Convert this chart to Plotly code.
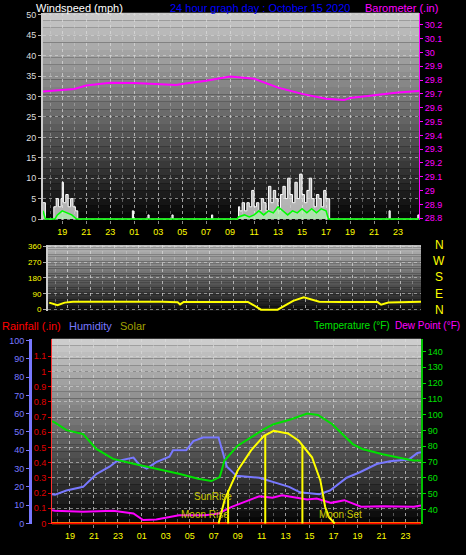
import plotly.graph_objects as go

W, H = 466, 555
# ---------------- data ----------------
baro_h = [17.4, 19, 20, 21, 23, 25, 27, 28.5, 29, 31, 33, 35, 37, 39, 41, 42.5, 43, 45, 47, 48.75]
baro_v = [29.717, 29.73, 29.735, 29.76, 29.78, 29.778, 29.77, 29.765, 29.772, 29.795, 29.825, 29.81, 29.745,
          29.70, 29.665, 29.655, 29.67, 29.69, 29.71, 29.72]

gust_h = [17.4, 17.6, 18.2, 18.3, 18.5, 18.7, 18.9, 19.0, 19.1, 19.3, 19.5, 19.7, 19.9, 20.1, 20.3,
          24.85, 24.95, 26.15, 26.25, 28.15, 28.25, 31.45, 31.55,
          33.6, 33.7, 33.8, 34.0, 34.2, 34.4, 34.6, 34.8, 35.0, 35.2, 35.4, 35.6, 35.8, 36.0, 36.2, 36.4,
          36.6, 36.8, 37.0, 37.2, 37.4, 37.6, 37.8, 38.0, 38.2, 38.4, 38.6, 38.8, 39.0, 39.2, 39.4, 39.6,
          39.8, 40.0, 40.2, 40.4, 40.6, 40.8, 41.0, 41.2, 41.3,
          46.25, 46.35, 48.65, 48.75]
gust_v = [4, 0, 0, 3, 5, 3, 5, 9, 4, 6, 3, 5, 3, 2, 0,
          2, 0, 1, 0, 1, 0, 1, 0,
          0, 3, 2, 4, 2, 4, 3, 7, 3, 4, 2, 5, 4, 2, 8, 4,
          7, 5, 2, 6, 8, 5, 10, 6, 4, 9, 5, 11, 6, 4, 7, 10,
          5, 3, 6, 5, 3, 7, 5, 5, 0,
          2, 0, 1, 0]
avg_h = [17.4, 17.6, 18.4, 18.6, 19.0, 19.4, 19.8, 20.2, 33.6, 33.7, 34.2, 34.6, 35.0, 35.4, 35.8, 36.2,
         36.6, 37.0, 37.4, 37.8, 38.2, 38.6, 39.0, 39.4, 39.8, 40.2, 40.6, 41.0, 41.2, 48.75]
avg_v = [2, 0, 0, 1, 2, 1.5, 1, 0, 0, 0.5, 1, 0.5, 1, 2, 1, 2,
         1.5, 3, 2, 1, 2, 1.5, 2.5, 1.5, 2.5, 1.5, 2.5, 2, 0, 0]

dir_h = [17.5, 18.0, 18.2, 18.8, 19.5, 21, 23, 25, 27, 28.3, 28.5, 28.8, 31, 33, 34.2, 34.7, 35.3, 36.7,
         37.3, 38.0, 38.9, 39.5, 40.2, 42, 44, 45.1, 45.4, 46, 48.75]
dir_v = [40, 30, 25, 40, 45, 45, 46, 44, 45, 42, 30, 44, 45, 45, 44, 25, 0, 0,
         22, 50, 70, 60, 45, 44, 45, 43, 28, 40, 45]

hum_h = [17.5, 17.75, 18.7, 20.1, 21.2, 22.3, 22.9, 24.3, 24.8, 25.4, 26.2, 27.3, 27.6, 28.7, 29.3, 30.1,
         31.0, 31.4, 32.1, 32.9, 34.8, 36.0, 37.3, 38.2, 39.8, 40.7, 42.1, 43.2, 44.6, 45.7, 47.3, 48.0, 48.3]
hum_v = [16, 15.7, 18, 20, 27, 31, 34, 36, 32, 30, 33.5, 36.5, 40, 40, 45, 47,
         47, 47, 31, 26, 25, 22.6, 20, 17, 16, 18, 25, 28, 32.5, 34, 35, 38.5, 39]
temp_h = [17.5, 17.75, 18.7, 20.1, 21.2, 22.6, 24.3, 25.6, 28.1, 29.7, 30.8, 31.5, 31.9, 33.0, 34.1, 35.2,
          36.0, 37.4, 38.8, 39.7, 40.9, 42.6, 43.4, 45.1, 47.0, 47.7, 48.3]
temp_v = [96, 95, 90.2, 87.7, 78.3, 72, 68.9, 66.8, 62.6, 59.5, 58, 60.5, 71, 80.4, 85.6, 90.8,
          94, 97, 100.7, 99.8, 94, 81.4, 78.3, 75, 72, 71, 71]
dew_h = [17.5, 17.75, 20.1, 22.6, 24.3, 25.1, 26.2, 28.1, 30.3, 31.4, 32.5, 34.8, 35.9, 36.7, 38.8, 39.6,
         40.8, 41.9, 43.3, 45.1, 47.7, 48.3]
dew_v = [39.5, 39.2, 38.5, 39.2, 37.5, 33.3, 33.7, 36.4, 36.4, 37.5, 41.7, 48.4, 47.5, 49, 46.3, 47,
         44.2, 45.9, 41.7, 42.1, 41.7, 42.5]
solar_h = [31.4, 31.9, 32.5, 33.0, 34.1, 35.2, 36.0, 37.2, 38.1, 39.2, 39.9, 40.3, 40.6, 41.1]
solar_v = [0, 140, 239, 318, 438, 527, 557, 541, 497, 398, 259, 99, 40, 0]
mark_h = [32.2, 35.3, 38.4]
mark_v = [200, 530, 470]
rain_h = [17.5, 48.3]
rain_v = [0, 0]

tick_hours = [19, 21, 23, 25, 27, 29, 31, 33, 35, 37, 39, 41, 43, 45, 47]
tick_text = ["19", "21", "23", "01", "03", "05", "07", "09", "11", "13", "15", "17", "19", "21", "23"]
compass = ["N", "W", "S", "E", "N"]

# ---------------- figure ----------------
def px_x(p): return p / W
def px_y(p): return 1 - p / H

fig = go.Figure()
fig.add_trace(go.Scatter(x=gust_h, y=gust_v, mode="lines", line=dict(color="white", width=1, shape="hv"),
                         fill="tozeroy", fillcolor="rgba(235,235,235,0.75)", xaxis="x", yaxis="y"))
fig.add_trace(go.Scatter(x=avg_h, y=avg_v, mode="lines", line=dict(color="#00ff00", width=1.5),
                         fill="tozeroy", fillcolor="rgba(170,255,170,0.6)", xaxis="x", yaxis="y"))
fig.add_trace(go.Scatter(x=baro_h, y=baro_v, mode="lines", line=dict(color="#ff00ff", width=2),
                         xaxis="x", yaxis="y2"))
fig.add_trace(go.Scatter(x=dir_h, y=dir_v, mode="lines", line=dict(color="#ffff00", width=2),
                         xaxis="x2", yaxis="y3"))
fig.add_trace(go.Scatter(x=rain_h, y=rain_v, mode="lines", line=dict(color="#ff8c00", width=3),
                         xaxis="x3", yaxis="y6"))
fig.add_trace(go.Scatter(x=rain_h, y=rain_v, mode="lines", line=dict(color="#ff0000", width=1.5),
                         xaxis="x3", yaxis="y6"))
mx, my = [], []
for h, v in zip(mark_h, mark_v):
    mx += [h, h, None]; my += [0, v, None]
fig.add_trace(go.Scatter(x=mx, y=my, mode="lines", line=dict(color="#ffff00", width=2),
                         xaxis="x3", yaxis="y9"))
fig.add_trace(go.Scatter(x=solar_h, y=solar_v, mode="lines", line=dict(color="#ffff00", width=2),
                         xaxis="x3", yaxis="y9"))
fig.add_trace(go.Scatter(x=hum_h, y=hum_v, mode="lines", line=dict(color="#7878ff", width=2),
                         xaxis="x3", yaxis="y5"))
fig.add_trace(go.Scatter(x=dew_h, y=dew_v, mode="lines", line=dict(color="#ff00ff", width=2),
                         xaxis="x3", yaxis="y7"))
fig.add_trace(go.Scatter(x=temp_h, y=temp_v, mode="lines", line=dict(color="#00e000", width=2),
                         xaxis="x3", yaxis="y7"))

grid = dict(showgrid=True, gridcolor="rgba(220,220,220,0.55)", griddash="dot", gridwidth=1, zeroline=False)
fnt = dict(family="Liberation Sans", size=9)
minor = dict(dtick=1, tick0=17, showgrid=True, gridcolor="rgba(220,220,220,0.35)", griddash="dot")
xcommon = dict(tickvals=tick_hours, ticktext=tick_text, tickfont=dict(fnt, color="#ffff00"),
               ticks="outside", ticklen=3, tickcolor="#888", showline=False, **grid, minor=minor)

fig.update_layout(
    width=W, height=H, margin=dict(l=0, r=0, t=0, b=0), paper_bgcolor="black", plot_bgcolor="black",
    showlegend=False, font=dict(family="Liberation Sans", size=9),
    xaxis=dict(domain=[px_x(43), px_x(419)], range=[17.4, 48.75], anchor="y", **xcommon),
    yaxis=dict(domain=[px_y(220), px_y(10)], range=[-0.3, 50.5], dtick=5, tickfont=dict(fnt, color="#dddddd"),
               ticks="outside", ticklen=3, tickcolor="#aaa", showline=True, linecolor="#cccccc", linewidth=2, **grid),
    yaxis2=dict(overlaying="y", side="right", anchor="x", range=[28.786, 30.286], tickvals=[28.8 + 0.1 * i for i in range(15)],
                ticktext=["28.8", "28.9", "29", "29.1", "29.2", "29.3", "29.4", "29.5", "29.6", "29.7", "29.8", "29.9", "30", "30.1", "30.2"],
                tickfont=dict(fnt, color="#ff00ff"), ticks="outside", ticklen=3, tickcolor="#ff00ff",
                showline=True, linecolor="#ff00ff", showgrid=False, zeroline=False),
    xaxis2=dict(domain=[px_x(48), px_x(421)], range=[17.4, 48.75], anchor="y3", showticklabels=False,
                ticks="", tickvals=tick_hours, **grid, minor=minor),
    yaxis3=dict(domain=[px_y(312), px_y(245)], anchor="x2", range=[-8, 368], tickvals=[0, 90, 180, 270, 360],
                tickfont=dict(fnt, size=8, color="#ffff00"), ticks="outside", ticklen=3, tickcolor="#aaa",
                showline=True, linecolor="#cccccc", linewidth=2, **grid),
    xaxis3=dict(domain=[px_x(52), px_x(421)], range=[17.5, 48.3], anchor="y6", **xcommon),
    yaxis5=dict(domain=[px_y(528), px_y(340)], anchor="free", position=px_x(30), overlaying="y6", range=[-0.5, 101],
                dtick=10, tickfont=dict(fnt, color="#7878ff"), ticks="outside", ticklen=3, tickcolor="#7878ff",
                showline=True, linecolor="#7878ff", linewidth=3, showgrid=False, zeroline=False),
    yaxis6=dict(domain=[px_y(528), px_y(340)], anchor="x3", range=[-0.006, 1.215],
                tickvals=[0, 0.1, 0.2, 0.3, 0.4, 0.5, 0.6, 0.7, 0.8, 0.9, 1, 1.1],
                ticktext=["0", "0.1", "0.2", "0.3", "0.4", "0.5", "0.6", "0.7", "0.8", "0.9", "1", "1.1"],
                tickfont=dict(fnt, color="#e00000"), ticks="outside", ticklen=3, tickcolor="#e00000",
                showline=True, linecolor="#ff3030", linewidth=1, **grid),
    yaxis7=dict(overlaying="y6", side="right", anchor="x3", range=[30.6, 148.1], tickvals=[40, 50, 60, 70, 80, 90, 100, 110, 120, 130, 140],
                tickfont=dict(fnt, color="#00e000"), ticks="outside", ticklen=3, tickcolor="#00e000",
                showline=True, linecolor="#00c000", linewidth=2, showgrid=False, zeroline=False),
    yaxis9=dict(overlaying="y6", anchor="x3", range=[-5, 1110], visible=False),
)

def gradient(xref, yref, top, bottom, n=28):
    for i in range(n):
        f = i / n
        c = int(top + (bottom - top) * f)
        fig.add_shape(type="rect", xref=xref + " domain", yref=yref + " domain", x0=0, x1=1,
                      y0=1 - (i + 1) / n, y1=1 - i / n, fillcolor=f"rgb({c},{c},{c})",
                      line_width=0, layer="below")
gradient("x", "y", 200, 0)
gradient("x2", "y3", 185, 10)
gradient("x3", "y6", 205, 0)

def txt(s, x, y, color, size=11, xanchor="left"):
    fig.add_annotation(text=s, x=px_x(x), y=px_y(y), xref="paper", yref="paper", showarrow=False,
                       xanchor=xanchor, yanchor="middle", font=dict(family="Liberation Sans", size=size, color=color))

txt("Windspeed (mph)", 34, 5, "white")
txt("24 hour graph day : October 15 2020", 260, 5, "#0000ff", xanchor="center")
txt("Barometer (.in)", 440, 5, "#ff00ff", xanchor="right")
for i, c in enumerate(compass):
    txt(c, 439, 245 + i * 16.5, "#ffff00", size=12, xanchor="center")
txt("Rainfall (.in)", 0, 327, "#ff0000")
txt("Humidity", 67, 327, "#7878ff")
txt("Solar", 118, 327, "#a0a000")
txt("Temperature (°F)", 392, 327, "#00e000", size=10, xanchor="right")
txt("Dew Point (°F)", 462, 327, "#ff00ff", size=10, xanchor="right")
for s, h, yp in [("SunRise", 30.9, 507), ("Moon Rise", 30.25, 526), ("Moon Set", 41.6, 526)]:
    fig.add_annotation(text=s, x=h, y=px_y(yp), xref="x3", yref="paper", showarrow=False,
                       font=dict(family="Liberation Sans", size=10, color="#c8c800"))

fig.write_html("out.html", config={"displayModeBar": False})
with open("out.html", encoding="utf-8") as f:
    page = f.read()
page = page.replace("<head>", "<head><style>html,body{margin:0;padding:0;overflow:hidden;background:black}</style>", 1)
with open("out.html", "w", encoding="utf-8") as f:
    f.write(page)
